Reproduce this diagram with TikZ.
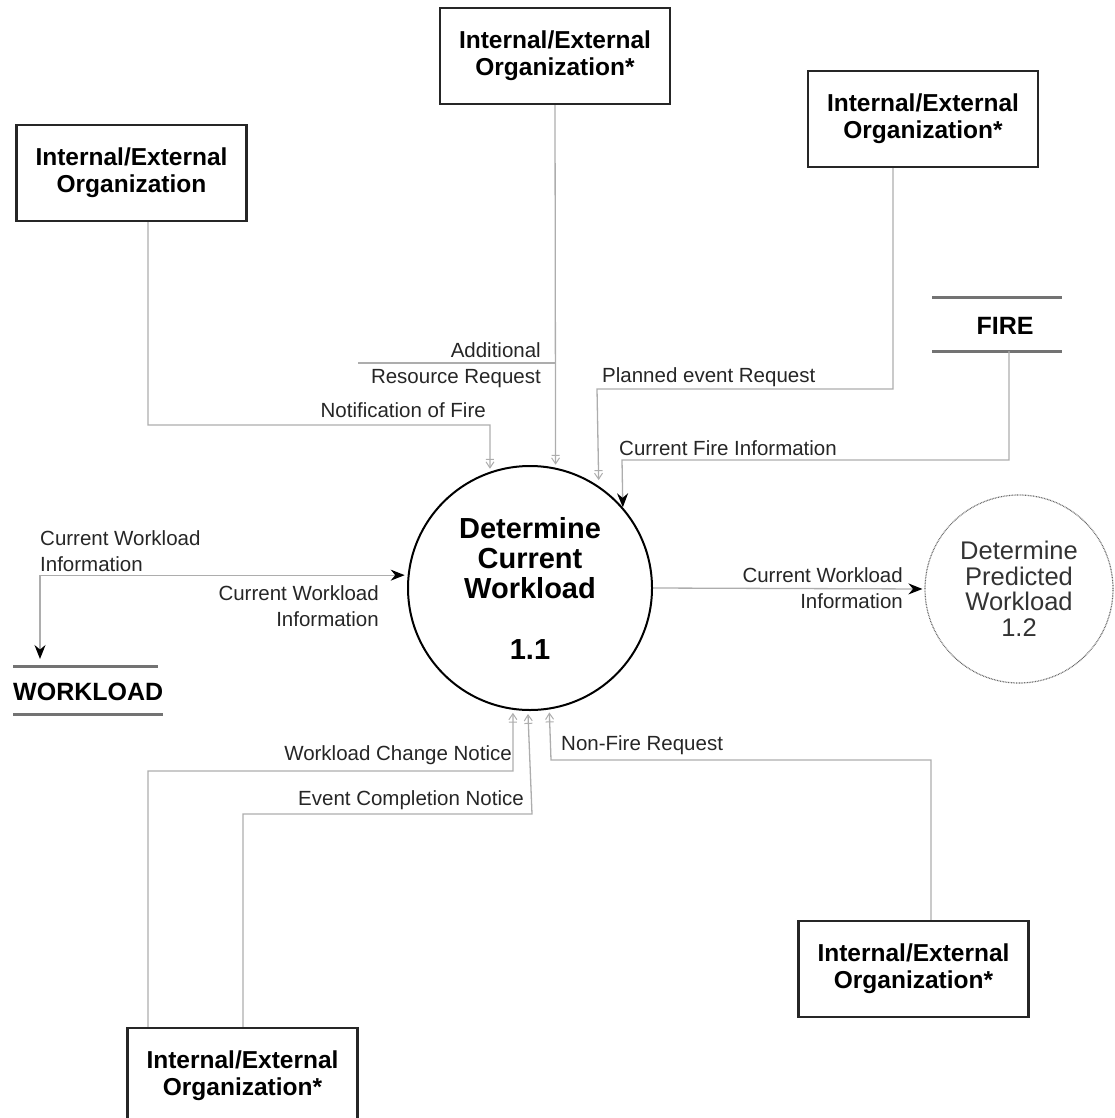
\documentclass[tikz,border=0pt]{standalone}
\usepackage{fontspec}
\setmainfont{Liberation Sans}
\usetikzlibrary{arrows.meta}
\begin{document}
\begin{tikzpicture}[x=1pt,y=-1pt,
  org/.style={draw=black!85, line width=2.4pt, minimum width=230pt, minimum height=96pt,
    inner sep=0pt, align=center, font=\fontsize{24.5}{27}\selectfont\bfseries},
  flow/.style={draw=black!32, line width=1.3pt},
  openhead/.style={flow, -{Bar[width=8pt, line width=1pt, sep=1.5pt]Straight Barb[length=6pt, width=8pt, line width=1pt]}, shorten >=3pt},
  solidhead/.style={flow, -{Stealth[length=14pt, width=11pt, color=black]}},
  lbl/.style={font=\fontsize{20.5}{26}\selectfont, text=black!85, inner sep=0pt},
  storeline/.style={draw=black!55, line width=3pt},
  storetext/.style={font=\fontsize{25}{30}\selectfont\bfseries, inner sep=0pt}
]
\useasboundingbox (0,0) rectangle (1114,1118);

% external entities
\node[org] (orgL)  at (131.5,173) {Internal/External\\Organization};
\node[org] (orgT)  at (555,56)    {Internal/External\\Organization*};
\node[org] (orgR)  at (923,119)   {Internal/External\\Organization*};
\node[org] (orgBR) at (913.5,969) {Internal/External\\Organization*};
\node[org] (orgB)  at (242.5,1076){Internal/External\\Organization*};

% processes
\node[circle, draw, line width=2pt, minimum size=244pt, inner sep=0pt, align=center,
      font=\fontsize{29}{30}\selectfont\bfseries] (main) at (530,588)
      {Determine\\Current\\Workload\\[31pt]1.1};
\node[circle, draw=black!60, line width=1.2pt, dash pattern=on 0.8pt off 0.8pt,
      minimum size=188pt, inner sep=0pt, align=center,
      font=\fontsize{25.5}{25.5}\selectfont, text=black!80] (pred) at (1019,589)
      {Determine\\Predicted\\Workload\\1.2};

% data stores
\node[storetext] (fire) at (1005,326) {FIRE};
\draw[storeline] (932,297) -- (1062,297);
\draw[storeline] (932,351) -- (1062,351);
\node[storetext, anchor=west] (wl) at (13,692) {WORKLOAD};
\draw[storeline] (13,666) -- (158,666);
\draw[storeline] (13,714) -- (163,714);

\coordinate (fireOut) at (1009,351);
\coordinate (wlIn) at (40,659);
\coordinate (arJoin) at (555,363);
\coordinate (arEnd) at (358,363);

% flows into the process from above
\draw[openhead] ([xshift=16.5pt]orgL.south) |- (490,425) -- (main.109.1);
\draw[openhead] (orgT.south) -- (main.78.2);
\draw[flow] (arJoin) -- (arEnd);
\draw[openhead, shorten >=6pt] ([xshift=-30pt]orgR.south) |- (597,389) -- (main.56.7);
\draw[solidhead] (fireOut) |- (622,460) -- (main.41);

% workload store exchange
\draw[flow, {Stealth[length=14pt, width=11pt, color=black]}-{Stealth[length=14pt, width=11pt, color=black]}, shorten >=3pt]
  (wlIn) |- (main.174.8);

% output to the prediction process
\draw[solidhead, shorten >=2pt] (main.east) -- (pred.west);

% flows into the process from below
\draw[openhead] ([xshift=-94.5pt]orgB.north) |- (513,771) -- (main.262);
\draw[openhead] ([xshift=0.5pt]orgB.north) |- (532,814) -- (main.269.1);
\draw[openhead] ([xshift=17.5pt]orgBR.north) |- (551,760) -- (main.279.9);

% flow labels
\node[lbl, anchor=east, align=right] (tAdd) at (541,365) {Additional\\Resource Request};
\node[lbl, anchor=east] (tNot) at (486,410) {Notification of Fire};
\node[lbl, anchor=west] (tPlan) at (602,377) {Planned event Request};
\node[lbl, anchor=west] (tFire) at (619,448) {Current Fire Information};
\node[lbl, anchor=west, align=left] (tWl1) at (40,551) {Current Workload\\Information};
\node[lbl, anchor=east, align=right] (tWl2) at (379,606) {Current Workload\\Information};
\node[lbl, anchor=east, align=right] (tWl3) at (903,588) {Current Workload\\Information};
\node[lbl, anchor=east] (tChg) at (512,755) {Workload Change Notice};
\node[lbl, anchor=east] (tEvt) at (524,800) {Event Completion Notice};
\node[lbl, anchor=west] (tNon) at (561,745) {Non-Fire Request};
\end{tikzpicture}
\end{document}
